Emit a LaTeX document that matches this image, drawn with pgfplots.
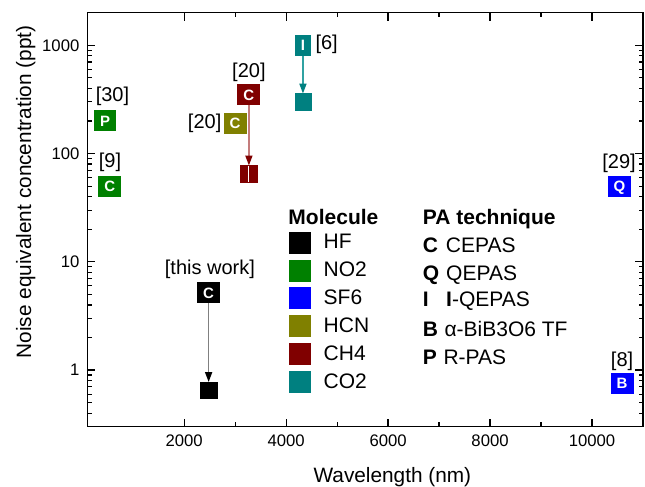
\documentclass[border=0pt]{standalone}
\usepackage{fontspec}
\setmainfont{Liberation Sans}
\usepackage{pgfplots}
\pgfplotsset{compat=1.18}
\usetikzlibrary{arrows.meta}
\definecolor{cNO}{HTML}{008000}
\definecolor{cSF}{HTML}{0000FF}
\definecolor{cHCN}{HTML}{808000}
\definecolor{cCH}{HTML}{800000}
\definecolor{cCO}{HTML}{008080}
\definecolor{aHF}{HTML}{808080}
\definecolor{aCH}{HTML}{C47C7C}
\definecolor{aCO}{HTML}{30A2A2}
\newcommand{\lab}{\fontsize{20.8}{25}\selectfont}
\newcommand{\leg}{\fontsize{21}{25}\selectfont}
\newcommand{\tck}{\fontsize{16.7}{20}\selectfont}
\newcommand{\ann}{\fontsize{20}{24}\selectfont}
\newcommand{\ltr}{\fontsize{15}{18}\selectfont\bfseries}
\pgfplotsset{
  letter/.style={only marks, mark=none, forget plot, point meta=explicit symbolic,
    nodes near coords,
    nodes near coords style={anchor=center, fill=#1, text=white, font=\ltr,
      inner xsep=6pt, inner ysep=5pt, text height=11pt, text depth=0pt}},
  plainmk/.style={only marks, forget plot, mark=square*, mark size=8.25pt,
    color=#1, mark options={draw=#1, fill=#1}},
  arr/.style 2 args={forget plot, color=#1, line width=1.7pt,
    shorten <=10.5pt, shorten >=8.3pt,
    -{Triangle[length=10pt,width=7pt,color=#2]}},
}
\begin{document}
\begin{tikzpicture}
\begin{axis}[
  scale only axis, width=555.7pt, height=414pt,
  clip marker paths=true,
  xmin=100, xmax=11000, ymode=log, ymin=0.3, ymax=2000,
  xtick={2000,4000,6000,8000,10000}, minor x tick num=1,
  ytick={1,10,100,1000}, yticklabels={1,10,100,1000},
  minor ytick={0.3,0.4,0.5,0.6,0.7,0.8,0.9,2,3,4,5,6,7,8,9,20,30,40,50,60,70,80,90,200,300,400,500,600,700,800,900,2000},
  scaled x ticks=false,
  /pgf/number format/assume math mode=true,
  /pgf/number format/1000 sep={},
  tick label style={font=\tck},
  xticklabel style={yshift=-5pt},
  yticklabel style={xshift=-4.4pt},
  tick align=inside,
  major tick length=8pt, minor tick length=4.5pt,
  every tick/.style={black, line width=1.2pt},
  axis line style={line width=1.3pt},
  xlabel={Wavelength (nm)},
  ylabel={Noise equivalent concentration (ppt)},
  label style={font=\lab},
  xlabel style={at={(ticklabel cs:0.549)}, yshift=-14pt},
  ylabel style={at={(ticklabel cs:0.567)}},
  legend image code/.code={\fill[#1] (0pt,-10.5pt) rectangle (21pt,10.5pt);},
  legend style={at={(rel axis cs:0.363,0.471)}, anchor=north west,
    draw=none, fill=none, inner sep=0pt, outer sep=0pt, row sep=6.45pt,
    font=\leg, nodes={inner sep=0pt}},
  legend cell align=left,
]
\addlegendimage{black}\addlegendentry{\hspace{13.3pt}HF}
\addlegendimage{cNO}\addlegendentry{\hspace{13.3pt}NO2}
\addlegendimage{cSF}\addlegendentry{\hspace{13.3pt}SF6}
\addlegendimage{cHCN}\addlegendentry{\hspace{13.3pt}HCN}
\addlegendimage{cCH}\addlegendentry{\hspace{13.3pt}CH4}
\addlegendimage{cCO}\addlegendentry{\hspace{13.3pt}CO2}

% arrows (improvement)
\addplot[arr={aHF}{black}] coordinates {(2480,5.2) (2480,0.65)};
\addplot[arr={aCH}{cCH}] coordinates {(3270,350) (3270,65)};
\addplot[arr={aCO}{cCO}] coordinates {(4330,1000) (4330,300)};

% plain markers
\addplot[plainmk=black] coordinates {(2480,0.65)};
\addplot[plainmk=cCH] coordinates {(3270,65)};
\addplot[forget plot, white, line width=1pt] coordinates {(3270,54.8) (3270,77.2)};
\addplot[plainmk=cCO] coordinates {(4330,300)};

% lettered markers
\addplot[letter=black] table[meta=t, row sep=\\] {x y t\\ 2480 5.2 C\\};
\addplot[letter=cNO] table[meta=t, row sep=\\] {x y t\\ 450 200 P\\ 540 50 C\\};
\addplot[letter=cSF] table[meta=t, row sep=\\] {x y t\\ 10540 50 Q\\ 10590 0.755 B\\};
\addplot[letter=cHCN] table[meta=t, row sep=\\] {x y t\\ 3000 190 C\\};
\addplot[letter=cCH] table[meta=t, row sep=\\] {x y t\\ 3270 350 C\\};
\addplot[letter=cCO] table[meta=t, row sep=\\] {x y t\\ 4330 1000 I\\};

% reference labels
\addplot[only marks, mark=none, forget plot, point meta=explicit symbolic,
  nodes near coords,
  visualization depends on={value \thisrow{dx} \as \dx},
  visualization depends on={value \thisrow{dy} \as \dy},
  nodes near coords style={anchor=base, xshift=\dx pt, yshift=\dy pt,
    font=\ann, inner sep=0pt, text=black}]
  table[x=x, y=y, meta=lab, col sep=comma, row sep=\\] {
x,y,dx,dy,lab\\
450,200,7.3,19,[30]\\
540,50,0.3,18.5,[9]\\
3270,350,0,17,[20]\\
3000,190,-30.5,-5,[20]\\
4330,1000,23.7,-4.2,[6]\\
2480,5.2,1.3,18.3,[this work]\\
10540,50,-0.5,17.7,[29]\\
10590,0.755,0,16.8,[8]\\
};

% legend headings and PA technique column
\node[anchor=base west, font=\leg, inner sep=0pt] at (rel axis cs:0.3617,0.4889) {\textbf{Molecule}};
\node[anchor=base west, font=\leg, inner sep=0pt] at (rel axis cs:0.6036,0.4889) {\textbf{PA technique}};
\node[anchor=base west, font=\leg, inner sep=0pt] at (rel axis cs:0.6036,0.4213) {\makebox[23pt][l]{\textbf{C}}CEPAS};
\node[anchor=base west, font=\leg, inner sep=0pt] at (rel axis cs:0.6036,0.3543) {\makebox[23.3pt][l]{\textbf{Q}}QEPAS};
\node[anchor=base west, font=\leg, inner sep=0pt] at (rel axis cs:0.6036,0.2899) {\makebox[23.3pt][l]{\textbf{I}}\textbf{I}-QEPAS};
\node[anchor=base west, font=\leg, inner sep=0pt] at (rel axis cs:0.6036,0.2174) {\makebox[21.6pt][l]{\textbf{B}}α-BiB3O6 TF};
\node[anchor=base west, font=\leg, inner sep=0pt] at (rel axis cs:0.6036,0.1507) {\makebox[20.6pt][l]{\textbf{P}}R-PAS};
\end{axis}
\pgfresetboundingbox
\path ([shift={(-87.3pt,-60.3pt)}]current axis.south west) rectangle ([shift={(2pt,12.7pt)}]current axis.north east);
\end{tikzpicture}
\end{document}
